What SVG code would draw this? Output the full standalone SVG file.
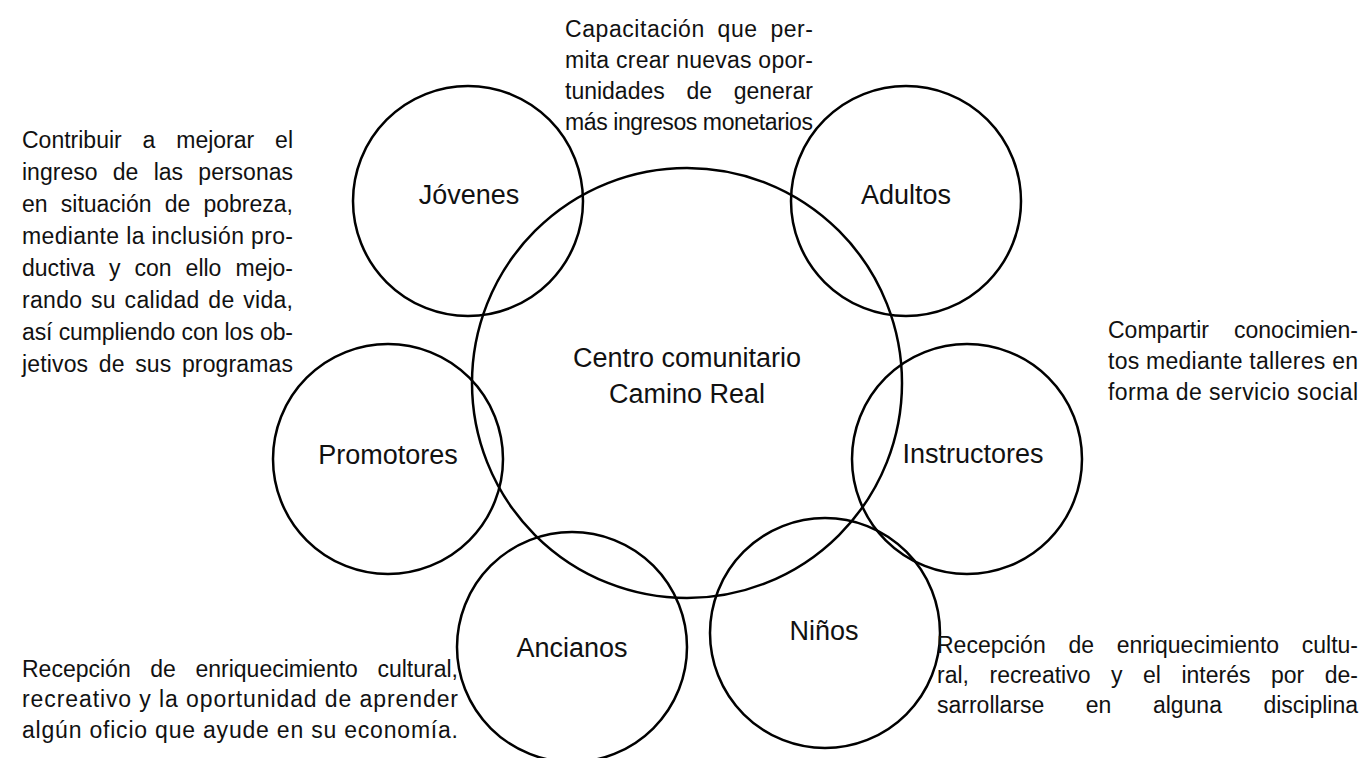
<svg xmlns="http://www.w3.org/2000/svg" width="1361" height="758" viewBox="0 0 1361 758">
<style>
  .ring { fill: none; stroke: #000; stroke-width: 2.5; }
  .lbl { font-family: "Liberation Sans", Arial, sans-serif; font-size: 27px; fill: #111; text-anchor: middle; }
  .txt { font-family: "Liberation Sans", Arial, sans-serif; font-size: 23px; fill: #111; }
</style>
<rect width="1361" height="758" fill="#fff"/>
<g id="connectors"></g>

<g id="node-centro">
  <circle class="ring" cx="687" cy="383" r="215"/>
  <text class="lbl" x="687" y="367">Centro comunitario</text>
  <text class="lbl" x="687" y="403">Camino Real</text>
</g>
<g id="node-jovenes">
  <circle class="ring" cx="468" cy="201" r="115"/>
  <text class="lbl" x="469" y="204">Jóvenes</text>
</g>
<g id="node-adultos">
  <circle class="ring" cx="906" cy="201" r="115"/>
  <text class="lbl" x="906" y="204">Adultos</text>
</g>
<g id="node-promotores">
  <circle class="ring" cx="388" cy="459" r="115"/>
  <text class="lbl" x="388" y="464">Promotores</text>
</g>
<g id="node-instructores">
  <circle class="ring" cx="967" cy="459" r="115"/>
  <text class="lbl" x="973" y="463">Instructores</text>
</g>
<g id="node-ancianos">
  <circle class="ring" cx="572" cy="647" r="115"/>
  <text class="lbl" x="572" y="657">Ancianos</text>
</g>
<g id="node-ninos">
  <circle class="ring" cx="825" cy="633" r="115"/>
  <text class="lbl" x="824" y="640">Niños</text>
</g>

<g id="note-adultos">
  <text class="txt" x="565" y="37" textLength="248" lengthAdjust="spacing" style="word-spacing:5.8px">Capacitación que per-</text>
  <text class="txt" x="565" y="68" textLength="248" lengthAdjust="spacing">mita crear nuevas opor-</text>
  <text class="txt" x="565" y="99" textLength="248" lengthAdjust="spacing" style="word-spacing:15.3px">tunidades de generar</text>
  <text class="txt" x="565" y="130" textLength="248" lengthAdjust="spacing">más ingresos monetarios</text>
</g>

<g id="note-promotores">
  <text class="txt" x="22" y="148" textLength="271" lengthAdjust="spacing" style="word-spacing:14.5px">Contribuir a mejorar el</text>
  <text class="txt" x="22" y="180" textLength="271" lengthAdjust="spacing" style="word-spacing:8.9px">ingreso de las personas</text>
  <text class="txt" x="22" y="212" textLength="271" lengthAdjust="spacing" style="word-spacing:6.8px">en situación de pobreza,</text>
  <text class="txt" x="22" y="244" textLength="271" lengthAdjust="spacing">mediante la inclusión pro-</text>
  <text class="txt" x="22" y="276" textLength="271" lengthAdjust="spacing" style="word-spacing:7.7px">ductiva y con ello mejo-</text>
  <text class="txt" x="22" y="308" textLength="271" lengthAdjust="spacing" style="word-spacing:2px">rando su calidad de vida,</text>
  <text class="txt" x="22" y="340" textLength="271" lengthAdjust="spacing">así cumpliendo con los ob-</text>
  <text class="txt" x="22" y="372" textLength="271" lengthAdjust="spacing" style="word-spacing:4px">jetivos de sus programas</text>
</g>

<g id="note-instructores">
  <text class="txt" x="1108" y="338" textLength="250" lengthAdjust="spacing" style="word-spacing:18.7px">Compartir conocimien-</text>
  <text class="txt" x="1108" y="369" textLength="250" lengthAdjust="spacing">tos mediante talleres en</text>
  <text class="txt" x="1108" y="400" textLength="250" lengthAdjust="spacing">forma de servicio social</text>
</g>

<g id="note-ancianos">
  <text class="txt" x="22" y="677" textLength="436" lengthAdjust="spacing" style="word-spacing:13.2px">Recepción de enriquecimiento cultural,</text>
  <text class="txt" x="22" y="707" textLength="436" lengthAdjust="spacing">recreativo y la oportunidad de aprender</text>
  <text class="txt" x="22" y="738" textLength="436" lengthAdjust="spacing">algún oficio que ayude en su economía.</text>
</g>

<g id="note-ninos">
  <text class="txt" x="937" y="653" textLength="421" lengthAdjust="spacing" style="word-spacing:16.3px">Recepción de enriquecimiento cultu-</text>
  <text class="txt" x="937" y="683" textLength="421" lengthAdjust="spacing" style="word-spacing:14.1px">ral, recreativo y el interés por de-</text>
  <text class="txt" x="937" y="713" textLength="421" lengthAdjust="spacing" style="word-spacing:35.1px">sarrollarse en alguna disciplina</text>
</g>
</svg>
